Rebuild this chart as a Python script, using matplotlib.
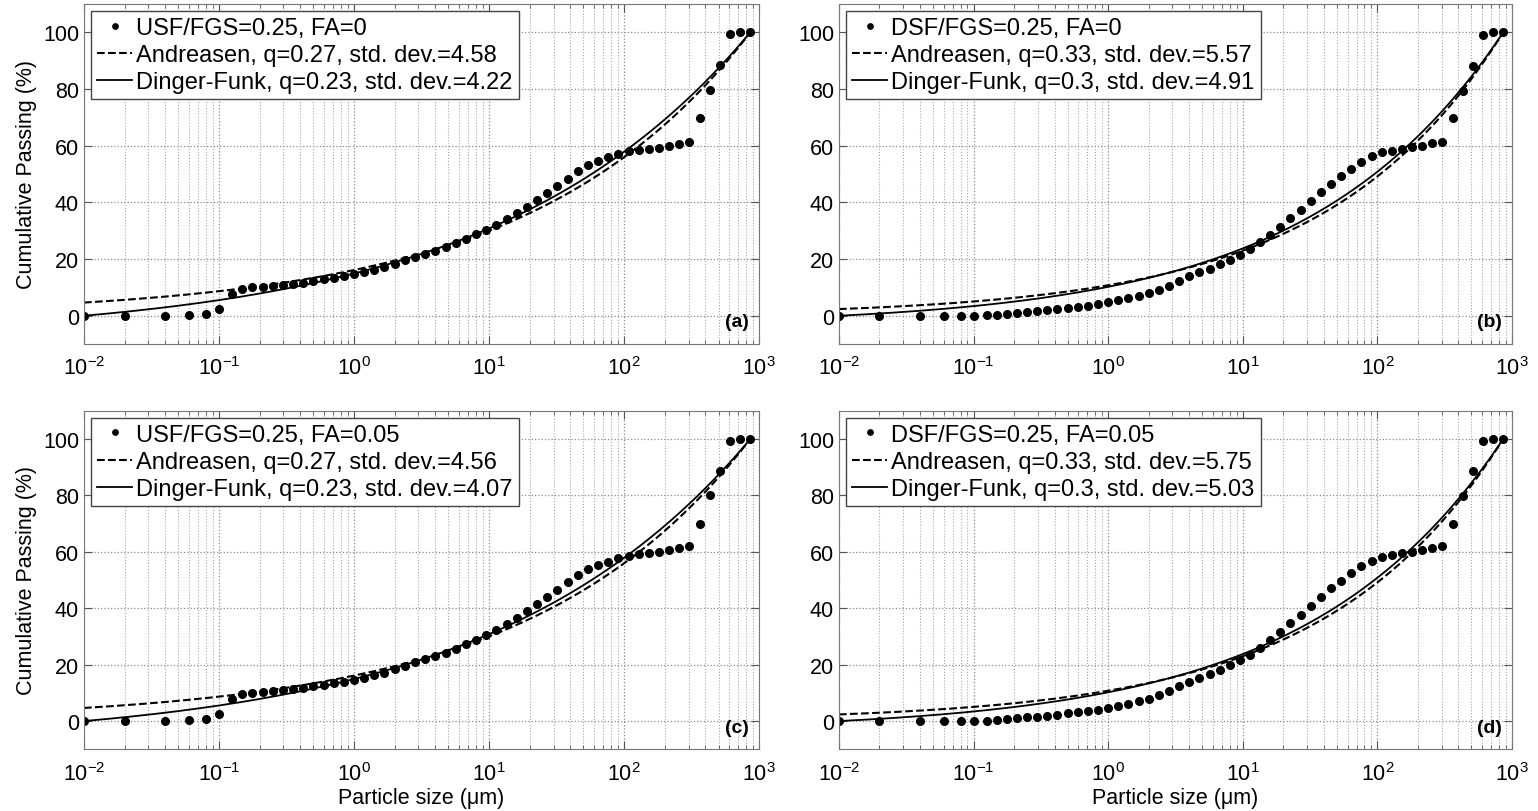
import numpy as np
import matplotlib
matplotlib.use("Agg")
import matplotlib.pyplot as plt
from matplotlib.ticker import LogLocator

plt.rcParams['font.family'] = ['Liberation Sans', 'DejaVu Sans']
plt.rcParams['mathtext.fontset'] = 'custom'
plt.rcParams['mathtext.rm'] = 'Liberation Sans'
plt.rcParams['mathtext.it'] = 'Liberation Sans:italic'

# particle sizes (um) of the measured grading
size_um = [0.01, 0.02, 0.04, 0.06, 0.08, 0.1,
           0.125, 0.149, 0.177, 0.21, 0.25, 0.297, 0.354, 0.42, 0.5, 0.595,
           0.707, 0.841, 1.0, 1.19, 1.41, 1.68, 2.0, 2.38, 2.83, 3.36,
           4.0, 4.76, 5.66, 6.73, 8.0, 9.51, 11.3, 13.5, 16.0, 19.0,
           22.6, 26.9, 32.0, 38.1, 45.3, 53.8, 64.0, 76.1, 90.5, 108,
           128, 152, 181, 215, 256, 304, 362, 431, 512, 609, 724, 861]

pass_a = [0, 0, 0, 0.3, 0.6, 2.5,
          7.7, 9.6, 10.0, 10.2, 10.5, 10.9, 11.2, 11.7, 12.3, 12.8,
          13.4, 14.0, 14.6, 15.4, 16.3, 17.2, 18.3, 19.6, 20.8, 21.9,
          23.0, 24.2, 25.6, 27.2, 28.9, 30.4, 32.1, 34.1, 36.2, 38.5,
          40.9, 43.3, 45.7, 48.4, 51.0, 53.0, 54.6, 55.9, 57.2, 58.0,
          58.4, 58.8, 59.3, 59.8, 60.6, 61.3, 69.7, 79.5, 88.3, 99.2, 100, 100]

pass_b = [0, 0, 0, 0, 0, 0,
          0.2, 0.4, 0.7, 1.0, 1.3, 1.6, 1.9, 2.3, 2.7, 3.1,
          3.6, 4.1, 4.8, 5.5, 6.2, 7.0, 7.9, 9.2, 10.6, 12.3,
          14.0, 15.3, 16.6, 18.2, 19.7, 21.5, 23.5, 25.9, 28.6, 31.4,
          34.4, 37.4, 40.4, 43.5, 46.5, 49.2, 51.8, 54.2, 56.2, 57.6,
          58.2, 58.9, 59.4, 60.0, 60.9, 61.4, 69.7, 79.4, 88.2, 99.1, 100, 100]

pass_c = [0, 0, 0, 0.3, 0.6, 2.5,
          7.7, 9.6, 10.0, 10.2, 10.5, 10.9, 11.2, 11.7, 12.3, 12.8,
          13.4, 14.0, 14.6, 15.4, 16.3, 17.2, 18.3, 19.6, 20.8, 21.9,
          23.0, 24.2, 25.6, 27.2, 28.9, 30.5, 32.3, 34.4, 36.6, 39.0,
          41.5, 44.0, 46.5, 49.2, 51.8, 53.8, 55.3, 56.5, 57.7, 58.6,
          59.2, 59.6, 60.0, 60.5, 61.4, 62.2, 70.0, 80.0, 88.7, 99.3, 100, 100]

pass_d = [0, 0, 0, 0, 0, 0,
          0.2, 0.4, 0.7, 1.0, 1.3, 1.6, 1.9, 2.3, 2.7, 3.1,
          3.6, 4.1, 4.8, 5.5, 6.2, 7.0, 7.9, 9.2, 10.6, 12.3,
          14.0, 15.3, 16.6, 18.2, 19.7, 21.5, 23.5, 25.9, 28.6, 31.5,
          34.6, 37.7, 40.8, 44.0, 47.0, 49.8, 52.4, 54.8, 56.7, 58.0,
          58.8, 59.4, 60.0, 60.6, 61.5, 62.1, 70.0, 79.8, 88.5, 99.2, 100, 100]

data_labels = ["USF/FGS=0.25, FA=0", "DSF/FGS=0.25, FA=0",
               "USF/FGS=0.25, FA=0.05", "DSF/FGS=0.25, FA=0.05"]
q_andreasen = [0.27, 0.33, 0.27, 0.33]
sd_andreasen = ["4.58", "5.57", "4.56", "5.75"]
q_dinger = [0.23, 0.3, 0.23, 0.3]
sd_dinger = ["4.22", "4.91", "4.07", "5.03"]
panel_tags = ["(a)", "(b)", "(c)", "(d)"]
passing = [pass_a, pass_b, pass_c, pass_d]

d_min = size_um[0]
d_max = size_um[-1]
d_fit = np.logspace(np.log10(d_min), np.log10(d_max), 400)

fig = plt.figure(figsize=(15.38, 8.12), dpi=100)
boxes = [[0.0546, 0.575, 0.439, 0.419],
         [0.5455, 0.575, 0.4376, 0.419],
         [0.0546, 0.076, 0.439, 0.417],
         [0.5455, 0.076, 0.4376, 0.417]]

for i in range(4):
    ax = fig.add_axes(boxes[i])
    qa = q_andreasen[i]
    qd = q_dinger[i]
    andreasen = 100 * (d_fit / d_max) ** qa
    dinger = 100 * (d_fit ** qd - d_min ** qd) / (d_max ** qd - d_min ** qd)

    ax.plot(size_um, passing[i], linestyle='none', marker='o', ms=5.5,
            color='black', label=data_labels[i])
    ax.plot(d_fit, andreasen, '--', color='black', lw=1.5,
            label="Andreasen, q=%s, std. dev.=%s" % (qa, sd_andreasen[i]))
    ax.plot(d_fit, dinger, '-', color='black', lw=1.3,
            label="Dinger-Funk, q=%s, std. dev.=%s" % (qd, sd_dinger[i]))

    ax.set_xscale('log')
    ax.set_xlim(0.01, 1000)
    ax.set_ylim(-10, 110)
    ax.set_yticks([0, 20, 40, 60, 80, 100])
    ax.xaxis.set_major_locator(LogLocator(base=10, numticks=10))
    ax.xaxis.set_minor_locator(LogLocator(base=10, subs=np.arange(2, 10), numticks=10))
    ax.grid(True, which='major', linestyle=':', color='#8a8a8a', lw=0.9)
    ax.grid(True, which='minor', axis='x', linestyle=':', color='#a8a8a8', lw=0.8)
    ax.tick_params(which='both', direction='in', top=True, right=True,
                   color='#555555', labelsize=15.5)
    ax.tick_params(which='major', length=6)
    ax.tick_params(which='minor', length=3)
    ax.tick_params(axis='x', pad=9)
    for s in ax.spines.values():
        s.set_color('#777777')

    ax.text(0.985, 0.04, panel_tags[i], transform=ax.transAxes, ha='right',
            va='bottom', fontsize=14, fontweight='bold')

    leg = ax.legend(loc='upper left', fontsize=17, frameon=True, fancybox=False,
                    borderaxespad=0.3, handlelength=1.5, handletextpad=0.17,
                    borderpad=0.25, labelspacing=0.22, numpoints=1,
                    markerscale=0.7)
    leg.get_frame().set_edgecolor('#444444')
    leg.get_frame().set_linewidth(1.0)
    leg.get_frame().set_alpha(1)

    if i % 2 == 0:
        ax.set_ylabel("Cumulative Passing (%)", fontsize=15.5, labelpad=4)
    if i >= 2:
        ax.set_xlabel("Particle size (\u03bcm)", fontsize=15.5, labelpad=2)

fig.savefig("out.png", dpi=100)
